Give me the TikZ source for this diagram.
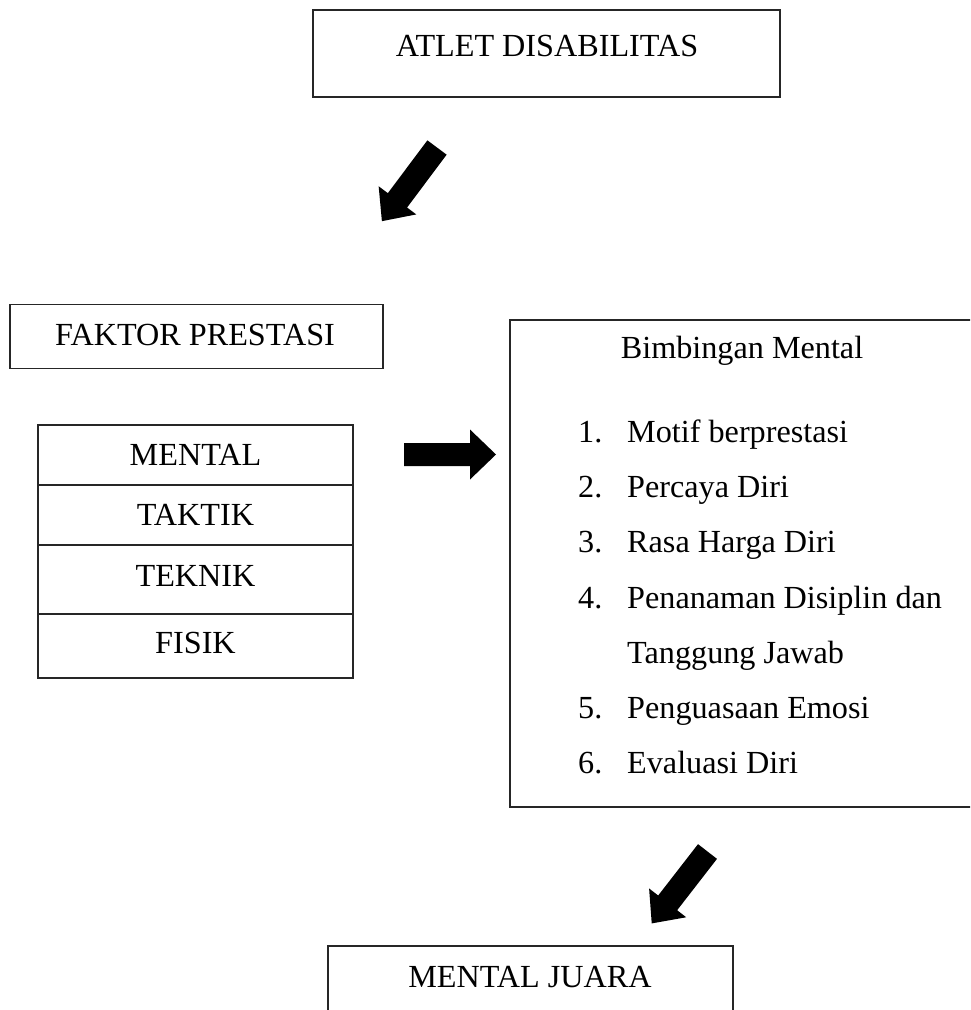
\documentclass[tikz,border=0pt]{standalone}
\usepackage{fontspec}
\setmainfont{Liberation Serif}
\begin{document}
\begin{tikzpicture}[x=1pt,y=1pt,
  box/.style={draw=black!85,line width=1.2pt,rectangle,inner sep=0pt},
  txt/.style={inner sep=0pt,anchor=base,font=\fontsize{32.2}{38}\selectfont},
  ltxt/.style={inner sep=0pt,anchor=base west,font=\fontsize{32.2}{38}\selectfont},
  blk/.style={fill=black}]
\useasboundingbox (0,0) rectangle (970,-1010);
\clip (0,0) rectangle (970,-1010);
% boxes
\node[box,minimum width=467pt,minimum height=87pt] (atlet) at (546.5,-53.5) {};
\node[txt] (atlett) at (547,-56) {ATLET DISABILITAS};
\node[box,minimum width=373pt,minimum height=64pt] (faktor) at (196.5,-336.5) {};
\node[txt] (faktort) at (195,-345) {FAKTOR PRESTASI};
\node[box,minimum width=315pt,minimum height=60pt] (mental) at (195.5,-455) {};
\node[box,minimum width=315pt,minimum height=60pt] (taktik) at (195.5,-515) {};
\node[box,minimum width=315pt,minimum height=69pt] (teknik) at (195.5,-579.5) {};
\node[box,minimum width=315pt,minimum height=64pt] (fisik) at (195.5,-646) {};
\node[txt] (mentalt) at (195.5,-465) {MENTAL};
\node[txt] (taktikt) at (195.5,-525) {TAKTIK};
\node[txt] (teknikt) at (195.5,-586) {TEKNIK};
\node[txt] (fisikt) at (195.5,-653) {FISIK};
\node[box,minimum width=470pt,minimum height=487pt] (bimb) at (745,-563.5) {};
\node[txt] (bimbt) at (742,-358) {Bimbingan Mental};
\node[ltxt] (n1) at (578,-442) {1.};
\node[ltxt] (i1) at (627,-442) {Motif berprestasi};
\node[ltxt] (n2) at (578,-497) {2.};
\node[ltxt] (i2) at (627,-497) {Percaya Diri};
\node[ltxt] (n3) at (578,-552) {3.};
\node[ltxt] (i3) at (627,-552) {Rasa Harga Diri};
\node[ltxt] (n4) at (578,-608) {4.};
\node[ltxt] (i4) at (627,-608) {Penanaman Disiplin dan};
\node[ltxt] (i4b) at (627,-663) {Tanggung Jawab};
\node[ltxt] (n5) at (578,-718) {5.};
\node[ltxt] (i5) at (627,-718) {Penguasaan Emosi};
\node[ltxt] (n6) at (578,-773) {6.};
\node[ltxt] (i6) at (627,-773) {Evaluasi Diri};
\node[box,minimum width=405pt,minimum height=100pt] (juara) at (530.5,-996) {};
\node[txt] (juarat) at (530,-987) {MENTAL JUARA};
% block arrows
\coordinate (a1) at (437,-147.5);
\coordinate (a2) at (404,-454.5);
\coordinate (a3) at (707.5,-851.5);
\fill[blk,shift={(a1)},rotate=233.2] (0,-12) -- (66,-12) -- (66,-23.5) -- (92,0) -- (66,23.5) -- (66,12) -- (0,12) -- cycle;
\fill[blk,shift={(a2)},rotate=0] (0,-11.5) -- (66,-11.5) -- (66,-25) -- (92,0) -- (66,25) -- (66,11.5) -- (0,11.5) -- cycle;
\fill[blk,shift={(a3)},rotate=232.2] (0,-12) -- (65,-12) -- (65,-23.5) -- (91,0) -- (65,23.5) -- (65,12) -- (0,12) -- cycle;
\end{tikzpicture}
\end{document}
